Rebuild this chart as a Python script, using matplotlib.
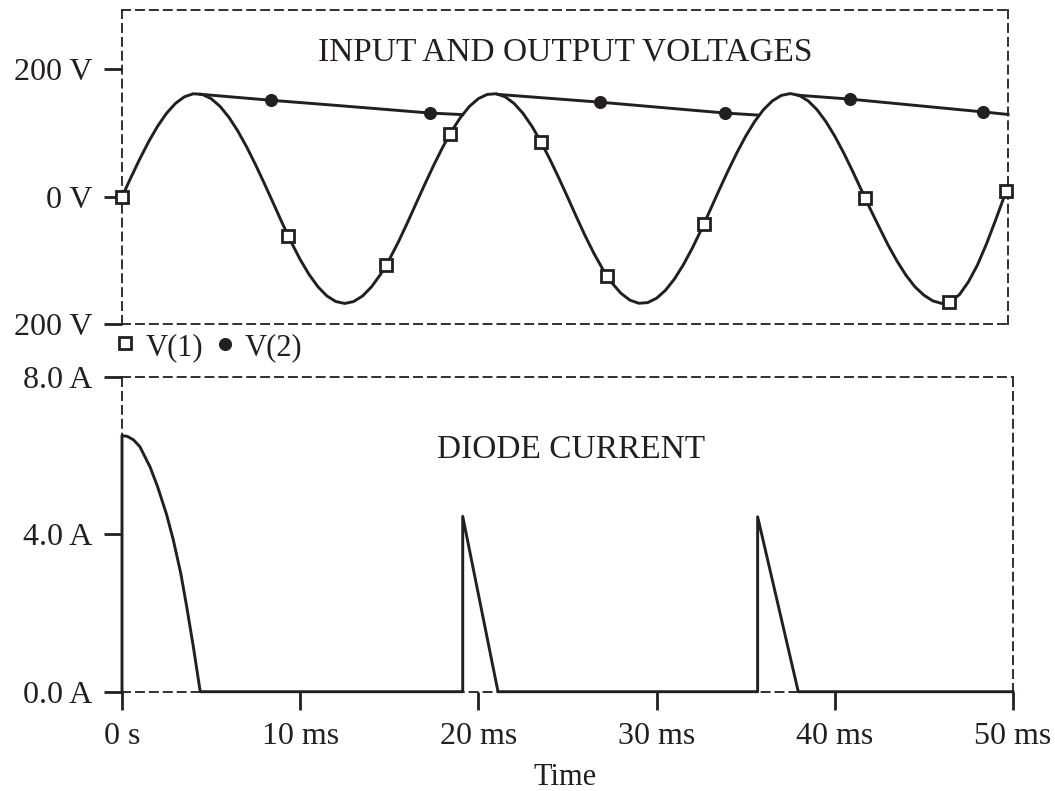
import numpy as np
import matplotlib
matplotlib.use("Agg")
import matplotlib.pyplot as plt
from matplotlib.lines import Line2D

plt.rcParams['font.family'] = ['Liberation Serif', 'DejaVu Serif']

INK = '#231f20'

# ---------------- data (time in ms) ----------------
# input voltage V(1), sampled every 0.5 ms, plus the last visible point
t_v1 = list(np.arange(0, 49.51, 0.5)) + [49.72]
v1 = [0, 30.4, 59.6, 86.8, 110.9, 131.1, 146.6, 156.9, 161.7, 160.7, 154.1, 142.0,
      124.8, 103.3, 78.1, 50.1, 20.3,
      -10.5, -41.5, -71.1, -98.2, -121.7, -141.0, -155.3, -164.0, -167.0, -164.0,
      -155.3, -141.0, -121.7, -98.2, -71.1, -41.5, -10.5,
      20.3, 50.1, 78.1, 103.3, 124.8, 142.0, 154.1, 160.7, 161.7, 156.9, 146.6,
      131.1, 110.9, 86.8, 59.6, 30.4,
      0,
      -31.3, -61.5, -89.5, -114.3, -135.1, -151.1, -161.8, -166.7, -165.7, -158.8,
      -146.3, -128.7, -106.4, -80.5, -51.6, -20.9,
      10.2, 40.3, 69.0, 95.2, 118.1, 136.8, 150.6, 159.1, 162.0, 159.1, 150.6,
      136.8, 118.1, 95.2, 69.0, 40.3, 10.2,
      -19.5, -48, -76, -101, -123, -141, -154, -163, -167, -164, -153, -133,
      -107, -74.5, -38, 0,
      17]

# V(1) marker points (squares)
t_sq = [0, 9.32, 14.81, 18.41, 23.51, 27.22, 32.66, 41.69, 46.41, 49.61]
v_sq = [0, -60.7, -107.5, 99.1, 86.3, -124.1, -41.8, -1.1, -164.6, 8.5]

# output voltage V(2) decay segments (charging parts coincide with V(1))
t_v2_a = [4.4, 8.36, 12.0, 17.28, 19.12]
v_v2_a = [160.9, 151.5, 143.5, 131.5, 129.0]
t_v2_b = [21.1, 26.82, 33.84, 35.72]
v_v2_b = [160.7, 148.5, 131.5, 128.2]
t_v2_c = [37.95, 40.85, 48.3, 49.72]
v_v2_c = [159.4, 153.3, 133.3, 129.3]

# V(2) marker points (dots)
t_dot = [8.36, 17.28, 26.82, 33.84, 40.85, 48.3]
v_dot = [151.5, 131.5, 148.5, 131.5, 153.3, 133.3]

# diode current (A)
t_i = [0, 0, 0.3, 0.65, 1.0, 1.57, 2.0, 2.5, 2.88, 3.3, 3.63, 4.0, 4.39,
       19.12, 19.12, 21.1, 35.67, 35.67, 37.95, 50]
i_d = [0, 6.5, 6.48, 6.39, 6.22, 5.71, 5.2, 4.5, 3.85, 3.0, 2.16, 1.15, 0,
       0, 4.45, 0, 0, 4.44, 0, 0]

v_ticks = [200, 0, -200]
v_ticklabels = ['200 V', '0 V', '200 V']
i_ticks = [8, 4, 0]
i_ticklabels = ['8.0 A', '4.0 A', '0.0 A']
t_ticks = [0, 10, 20, 30, 40, 50]
t_ticklabels = ['0 s', '10 ms', '20 ms', '30 ms', '40 ms', '50 ms']

# ---------------- figure ----------------
W, H = 1055, 791
fig = plt.figure(figsize=(W / 100, H / 100), dpi=100)
PX_PER_MS = 17.82

ax1 = fig.add_axes([122 / W, 1 - 324.5 / H, 886 / W, 314.5 / H])
ax2 = fig.add_axes([122 / W, 1 - 691.7 / H, 891 / W, 315.2 / H])

ax1.set_xlim(0, 886 / PX_PER_MS)
ax1.set_ylim(-200, 293)
ax2.set_xlim(0, 50)
ax2.set_ylim(0, 8)

FS_TICK = 23
FS_TITLE = 24
FS_SMALL = 22
LW = 2.1

for ax in (ax1, ax2):
    for sp in ax.spines.values():
        sp.set_linestyle((0, (4.5, 3.2)))
        sp.set_linewidth(1.3)
        sp.set_color(INK)
    ax.tick_params(axis='both', direction='out', length=13, width=2.0,
                   color=INK, labelcolor=INK, labelsize=FS_TICK)

ax1.set_xticks([])
ax1.set_yticks(v_ticks)
ax1.set_yticklabels(v_ticklabels)
ax1.tick_params(axis='y', pad=8)

ax2.set_yticks(i_ticks)
ax2.set_yticklabels(i_ticklabels)
ax2.set_xticks(t_ticks)
ax2.set_xticklabels(t_ticklabels)
ax2.tick_params(axis='y', pad=8)
ax2.tick_params(axis='x', pad=9)

# top panel curves
ax1.plot(t_v1, v1, color=INK, lw=LW, zorder=3, clip_on=False)
for tt, vv in ((t_v2_a, v_v2_a), (t_v2_b, v_v2_b), (t_v2_c, v_v2_c)):
    ax1.plot(tt, vv, color=INK, lw=LW, zorder=3, clip_on=False)
ax1.plot(t_sq, v_sq, ls='none', marker='s', ms=8.6, mew=2.0, mfc='white',
         mec=INK, zorder=5, clip_on=False)
ax1.plot(t_dot, v_dot, ls='none', marker='o', ms=8.4, mew=1.0, mfc=INK,
         mec=INK, zorder=5, clip_on=False)

ax1.text(24.9, 214, 'INPUT AND OUTPUT VOLTAGES', ha='center', va='baseline',
         fontsize=FS_TITLE, color=INK)

# bottom panel
ax2.plot(t_i, i_d, color=INK, lw=LW, zorder=3, clip_on=False)
ax2.text(25.2, 5.93, 'DIODE CURRENT', ha='center', va='baseline',
         fontsize=FS_TITLE, color=INK)

# legend between panels
fig.add_artist(Line2D([125 / W], [1 - 343 / H], ls='none', marker='s', ms=8.6,
                      mew=2.0, mfc='white', mec=INK, transform=fig.transFigure))
fig.text(146 / W, 1 - 355 / H, 'V(1)', ha='left', va='baseline', fontsize=FS_SMALL,
         color=INK)
fig.add_artist(Line2D([225.5 / W], [1 - 344 / H], ls='none', marker='o', ms=8.4,
                      mew=1.0, mfc=INK, mec=INK, transform=fig.transFigure))
fig.text(245 / W, 1 - 355 / H, 'V(2)', ha='left', va='baseline', fontsize=FS_SMALL,
         color=INK)

fig.text(565 / W, 1 - 785 / H, 'Time', ha='center', va='baseline',
         fontsize=FS_SMALL, color=INK)

fig.savefig('out.png', dpi=100, facecolor='white')
